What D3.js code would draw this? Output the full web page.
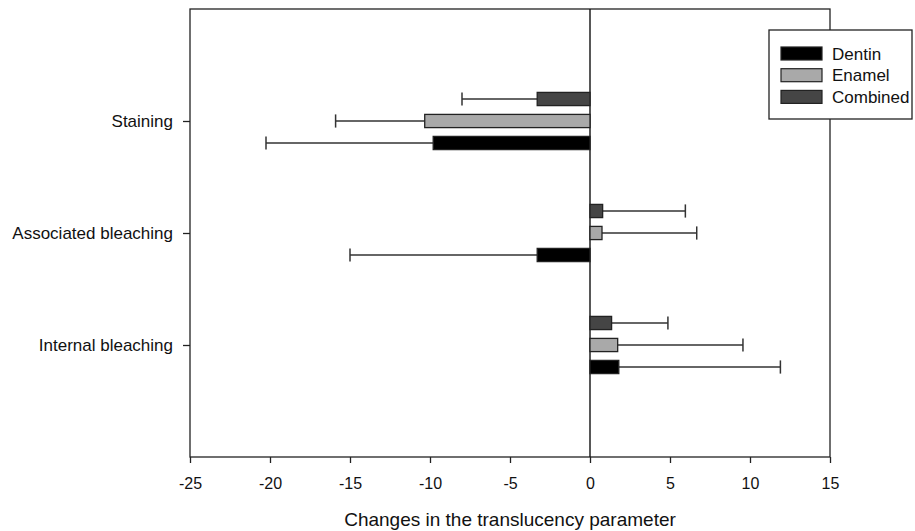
<!DOCTYPE html>
<html>
<head>
<meta charset="utf-8">
<script src="https://cdn.jsdelivr.net/npm/d3@7"></script>
<style>
  body { margin: 0; background: #fff; }
  svg { display: block; font-family: Arial, "Liberation Sans", sans-serif; }
</style>
</head>
<body>
<div class="chart-container"></div>
<script>
/********** the Data **********/
const categories = ["Staining", "Associated bleaching", "Internal bleaching"];
const seriesNames = ["Dentin", "Enamel", "Combined"];

// mean change per category, and the one-sided error (SD) drawn outward
const dentinMean = [-9.8, -3.3, 1.8];
const dentinSD = [10.45, 11.7, 10.1];
const enamelMean = [-10.33, 0.75, 1.73];
const enamelSD = [5.57, 5.92, 7.83];
const combinedMean = [-3.3, 0.79, 1.35];
const combinedSD = [4.7, 5.17, 3.52];

const xTicks = [-25, -20, -15, -10, -5, 0, 5, 10, 15];

const colors = {Dentin: "#000000", Enamel: "#a9a9a9", Combined: "#454545"};

/********** build rows **********/
let rows = [];
categories.forEach((cat, i) => {
  rows.push({cat: cat, series: "Dentin", mean: dentinMean[i], sd: dentinSD[i]});
  rows.push({cat: cat, series: "Enamel", mean: enamelMean[i], sd: enamelSD[i]});
  rows.push({cat: cat, series: "Combined", mean: combinedMean[i], sd: combinedSD[i]});
});

/********** drawChart **********/
function drawChart() {
  let width = 915, height = 531;
  let margin = {top: 9, right: 85, bottom: 74, left: 190};
  let x0 = margin.left, x1 = width - margin.right;
  let y0 = margin.top, y1 = height - margin.bottom;

  let svg = d3.select(".chart-container").append("svg")
    .attr("width", width)
    .attr("height", height);

  let xScale = d3.scaleLinear().domain([-25, 15]).range([x0, x1]);
  let yScale = d3.scalePoint().domain(categories).range([y0, y1]).padding(1);
  // Combined on top, Dentin at the bottom of each group
  let inner = d3.scaleBand().domain(["Combined", "Enamel", "Dentin"])
    .range([-33, 33]).paddingInner(0.4).paddingOuter(0.2);

  // frame
  svg.append("rect")
    .attr("x", x0).attr("y", y0)
    .attr("width", x1 - x0).attr("height", y1 - y0)
    .attr("fill", "none").attr("stroke", "#222").attr("stroke-width", 1.3);

  // zero line
  svg.append("line")
    .attr("x1", xScale(0)).attr("x2", xScale(0))
    .attr("y1", y0).attr("y2", y1)
    .attr("stroke", "#111").attr("stroke-width", 1.4);

  // x axis (plain hyphen for negatives, like the original)
  let xAxis = svg.append("g")
    .attr("transform", `translate(0, ${y1})`)
    .call(d3.axisBottom(xScale).tickValues(xTicks).tickFormat(d => String(d))
      .tickSize(6).tickSizeOuter(0).tickPadding(15));
  xAxis.select(".domain").remove();
  xAxis.selectAll("line").attr("stroke", "#222").attr("stroke-width", 1.3);
  xAxis.selectAll("text").attr("font-size", 16).attr("fill", "#111")
    .attr("font-family", "Arial, 'Liberation Sans', sans-serif");

  // y axis
  let yAxis = svg.append("g")
    .attr("transform", `translate(${x0}, 0)`)
    .call(d3.axisLeft(yScale).tickSize(7).tickSizeOuter(0).tickPadding(10));
  yAxis.select(".domain").remove();
  yAxis.selectAll("line").attr("stroke", "#222").attr("stroke-width", 1.3);
  yAxis.selectAll("text").attr("font-size", 17).attr("fill", "#111")
    .attr("font-family", "Arial, 'Liberation Sans', sans-serif");

  // x axis title
  svg.append("text")
    .attr("x", (x0 + x1) / 2)
    .attr("y", 526)
    .attr("text-anchor", "middle")
    .attr("font-size", 19)
    .attr("fill", "#111")
    .text("Changes in the translucency parameter");

  // error bars (drawn outward from the bar end)
  let err = svg.append("g").attr("class", "errors");
  rows.forEach(d => {
    let yc = yScale(d.cat) + inner(d.series) + inner.bandwidth() / 2;
    let end = d.mean < 0 ? d.mean - d.sd : d.mean + d.sd;
    err.append("line")
      .attr("x1", xScale(d.mean)).attr("x2", xScale(end))
      .attr("y1", yc).attr("y2", yc)
      .attr("stroke", "#333").attr("stroke-width", 1.3);
    err.append("line")
      .attr("x1", xScale(end)).attr("x2", xScale(end))
      .attr("y1", yc - inner.bandwidth() / 2).attr("y2", yc + inner.bandwidth() / 2)
      .attr("stroke", "#333").attr("stroke-width", 1.5);
  });

  // bars
  svg.selectAll(".bar")
    .data(rows)
    .enter().append("rect")
      .attr("class", "bar")
      .attr("x", d => xScale(Math.min(0, d.mean)))
      .attr("width", d => Math.abs(xScale(d.mean) - xScale(0)))
      .attr("y", d => yScale(d.cat) + inner(d.series))
      .attr("height", inner.bandwidth())
      .attr("fill", d => colors[d.series])
      .attr("stroke", "#222")
      .attr("stroke-width", 1.3);

  // legend
  let lg = svg.append("g").attr("class", "legend");
  lg.append("rect")
    .attr("x", 769).attr("y", 30)
    .attr("width", 143).attr("height", 89)
    .attr("fill", "#fff").attr("stroke", "#222").attr("stroke-width", 1.3);
  seriesNames.forEach((s, i) => {
    let yc = 53.5 + i * 21.7;
    lg.append("rect")
      .attr("x", 781).attr("y", yc - 6.5)
      .attr("width", 41).attr("height", 13)
      .attr("fill", colors[s]).attr("stroke", "#222").attr("stroke-width", 1.2);
    lg.append("text")
      .attr("x", 832).attr("y", yc)
      .attr("dy", "0.36em")
      .attr("font-size", 17)
      .attr("fill", "#111")
      .text(s);
  });
}

drawChart();
</script>
</body>
</html>
